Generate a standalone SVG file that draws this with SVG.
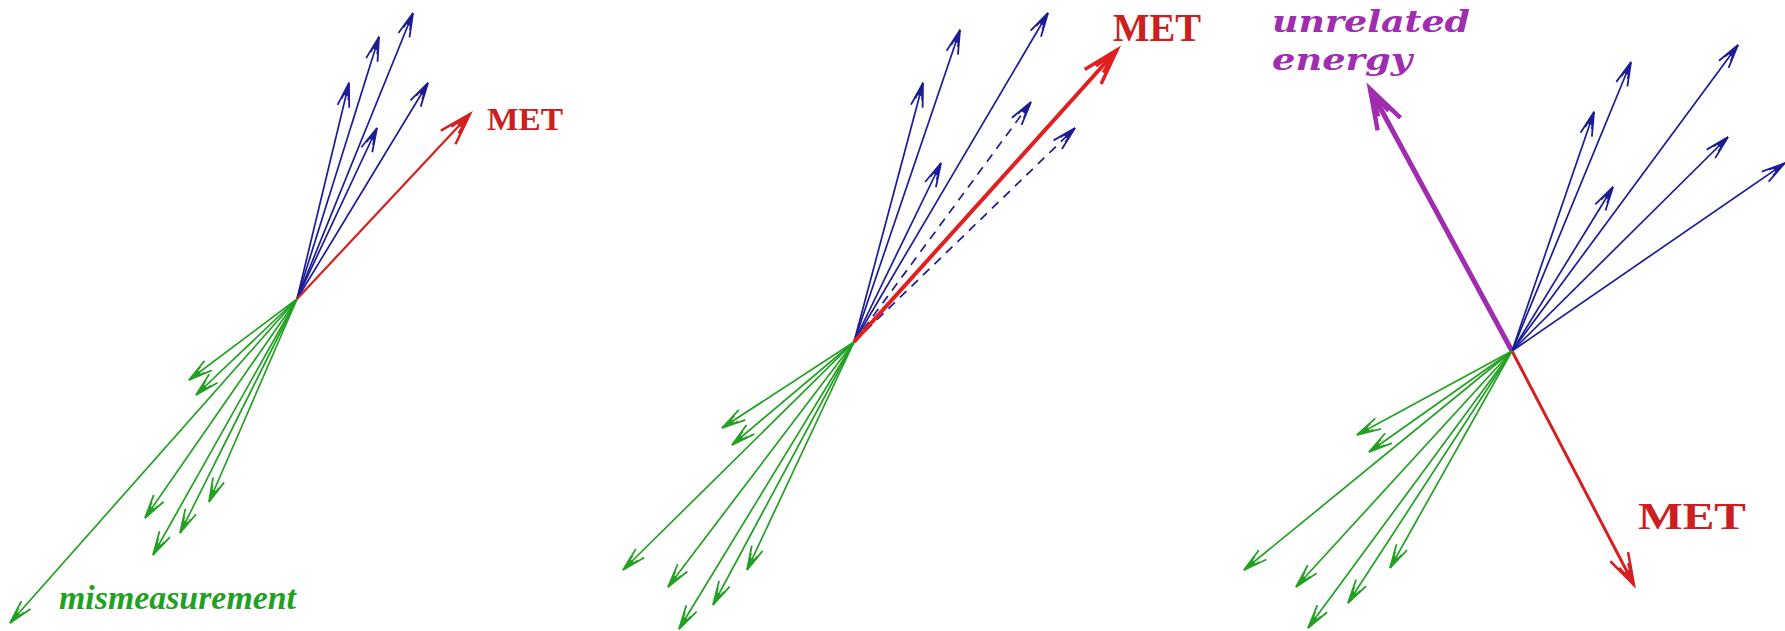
<svg xmlns="http://www.w3.org/2000/svg" width="1785" height="631" viewBox="0 0 1785 631">
<style>
.b{stroke:#1c1c94;stroke-width:1.7;fill:none;marker-end:url(#hb)}
.bd{stroke:#1c1c94;stroke-width:1.7;fill:none;stroke-dasharray:9 7;marker-end:url(#hb)}
.g{stroke:#22a022;stroke-width:1.7;fill:none;marker-end:url(#hg)}
.lbl{font-family:"Liberation Serif",serif;font-weight:bold}
.wide{font-family:"DejaVu Serif",serif;font-weight:bold}
.it{font-style:italic}
</style>
<defs>
<marker id="hb" markerUnits="userSpaceOnUse" orient="auto" overflow="visible" markerWidth="1" markerHeight="1">
<path d="M-24,-6 L0,0 L-24,6 M-17,-3.5 L0,0 L-17,3.5" fill="none" stroke="#1c1c94" stroke-width="1.8"/>
<path d="M0,0 L-13,-2.5 L-13,2.5 Z" fill="#1c1c94"/>
</marker>
<marker id="hg" markerUnits="userSpaceOnUse" orient="auto" overflow="visible" markerWidth="1" markerHeight="1">
<path d="M-24,-6 L0,0 L-24,6 M-17,-3.5 L0,0 L-17,3.5" fill="none" stroke="#22a022" stroke-width="1.8"/>
<path d="M0,0 L-13,-2.5 L-13,2.5 Z" fill="#22a022"/>
</marker>
<marker id="hr" markerUnits="userSpaceOnUse" orient="auto" overflow="visible" markerWidth="1" markerHeight="1">
<path d="M-32,-10 L0,0 L-32,10 M-22,-5 L0,0 L-22,5" fill="none" stroke="#d42020" stroke-width="2.5"/>
<path d="M0,0 L-16,-3 L-16,3 Z" fill="#d42020"/>
</marker>
<marker id="hr2" markerUnits="userSpaceOnUse" orient="auto" overflow="visible" markerWidth="1" markerHeight="1">
<path d="M-36,-11 L0,0 L-36,11 M-26,-5 L0,0 L-26,5" fill="none" stroke="#e02020" stroke-width="3.5"/>
<path d="M0,0 L-18,-4 L-18,4 Z" fill="#e02020"/>
</marker>
<marker id="hp" markerUnits="userSpaceOnUse" orient="auto" overflow="visible" markerWidth="1" markerHeight="1">
<path d="M-40,-13 L0,0 L-40,13 M-28,-6 L0,0 L-28,6" fill="none" stroke="#a02cb0" stroke-width="4.5"/>
<path d="M0,0 L-20,-5 L-20,5 Z" fill="#a02cb0"/>
</marker>
</defs>
<rect width="1785" height="631" fill="#ffffff"/>
<g id="connectors">
<g id="panel1-arrows">
<line class="b" x1="297" y1="299" x2="413" y2="13"/>
<line class="b" x1="297" y1="299" x2="379" y2="37"/>
<line class="b" x1="297" y1="299" x2="349" y2="83"/>
<line class="b" x1="297" y1="299" x2="428" y2="83"/>
<line class="b" x1="297" y1="299" x2="377" y2="128"/>
<line x1="297" y1="299" x2="470" y2="114" stroke="#d42020" stroke-width="2.2" marker-end="url(#hr)"/>
<line class="g" x1="297" y1="299" x2="10" y2="623"/>
<line class="g" x1="297" y1="299" x2="189" y2="380"/>
<line class="g" x1="297" y1="299" x2="196" y2="395"/>
<line class="g" x1="297" y1="299" x2="145" y2="518"/>
<line class="g" x1="297" y1="299" x2="153" y2="555"/>
<line class="g" x1="297" y1="299" x2="180" y2="533"/>
<line class="g" x1="297" y1="299" x2="209" y2="502"/>
</g>
<g id="panel2-arrows">
<line class="b" x1="854" y1="342" x2="960" y2="30"/>
<line class="b" x1="854" y1="342" x2="923" y2="83"/>
<line class="b" x1="854" y1="342" x2="1048" y2="13"/>
<line class="b" x1="854" y1="342" x2="941" y2="163"/>
<line class="bd" x1="854" y1="342" x2="1031" y2="102"/>
<line class="bd" x1="854" y1="342" x2="1075" y2="128"/>
<line x1="854" y1="342" x2="1117" y2="50" stroke="#e02020" stroke-width="4" marker-end="url(#hr2)"/>
<line class="g" x1="854" y1="342" x2="623" y2="570"/>
<line class="g" x1="854" y1="342" x2="668" y2="587"/>
<line class="g" x1="854" y1="342" x2="679" y2="629"/>
<line class="g" x1="854" y1="342" x2="713" y2="605"/>
<line class="g" x1="854" y1="342" x2="747" y2="570"/>
<line class="g" x1="854" y1="342" x2="722" y2="428"/>
<line class="g" x1="854" y1="342" x2="732" y2="445"/>
</g>
<g id="panel3-arrows">
<line x1="1512" y1="351" x2="1370" y2="89" stroke="#a02cb0" stroke-width="5" marker-end="url(#hp)"/>
<line class="b" x1="1512" y1="351" x2="1631" y2="62"/>
<line class="b" x1="1512" y1="351" x2="1594" y2="112"/>
<line class="b" x1="1512" y1="351" x2="1738" y2="45"/>
<line class="b" x1="1512" y1="351" x2="1613" y2="187"/>
<line class="b" x1="1512" y1="351" x2="1728" y2="137"/>
<line class="b" x1="1512" y1="351" x2="1785" y2="163"/>
<line x1="1512" y1="351" x2="1634" y2="585" stroke="#d42020" stroke-width="3" marker-end="url(#hr)"/>
<line class="g" x1="1512" y1="351" x2="1244" y2="570"/>
<line class="g" x1="1512" y1="351" x2="1296" y2="587"/>
<line class="g" x1="1512" y1="351" x2="1308" y2="628"/>
<line class="g" x1="1512" y1="351" x2="1348" y2="603"/>
<line class="g" x1="1512" y1="351" x2="1390" y2="568"/>
<line class="g" x1="1512" y1="351" x2="1357" y2="435"/>
<line class="g" x1="1512" y1="351" x2="1369" y2="452"/>
</g>
</g>
<g id="label-met1"><text class="lbl" x="487" y="130" font-size="32" fill="#cc2020" textLength="76" lengthAdjust="spacingAndGlyphs">MET</text></g>
<g id="label-mismeasurement"><text class="lbl it" x="59" y="609" font-size="33" fill="#22a022" textLength="237" lengthAdjust="spacingAndGlyphs">mismeasurement</text></g>
<g id="label-met2"><text class="lbl" x="1113" y="41" font-size="39" fill="#cc2020" textLength="88" lengthAdjust="spacingAndGlyphs">MET</text></g>
<g id="label-unrelated"><text class="wide it" x="1272" y="32" font-size="30" fill="#a02cb0" textLength="198" lengthAdjust="spacingAndGlyphs">unrelated</text><text class="wide it" x="1272" y="70" font-size="30" fill="#a02cb0" textLength="140" lengthAdjust="spacingAndGlyphs">energy</text></g>
<g id="label-met3"><text class="lbl" x="1638" y="529" font-size="38" fill="#cc2020" textLength="108" lengthAdjust="spacingAndGlyphs">MET</text></g>
</svg>
